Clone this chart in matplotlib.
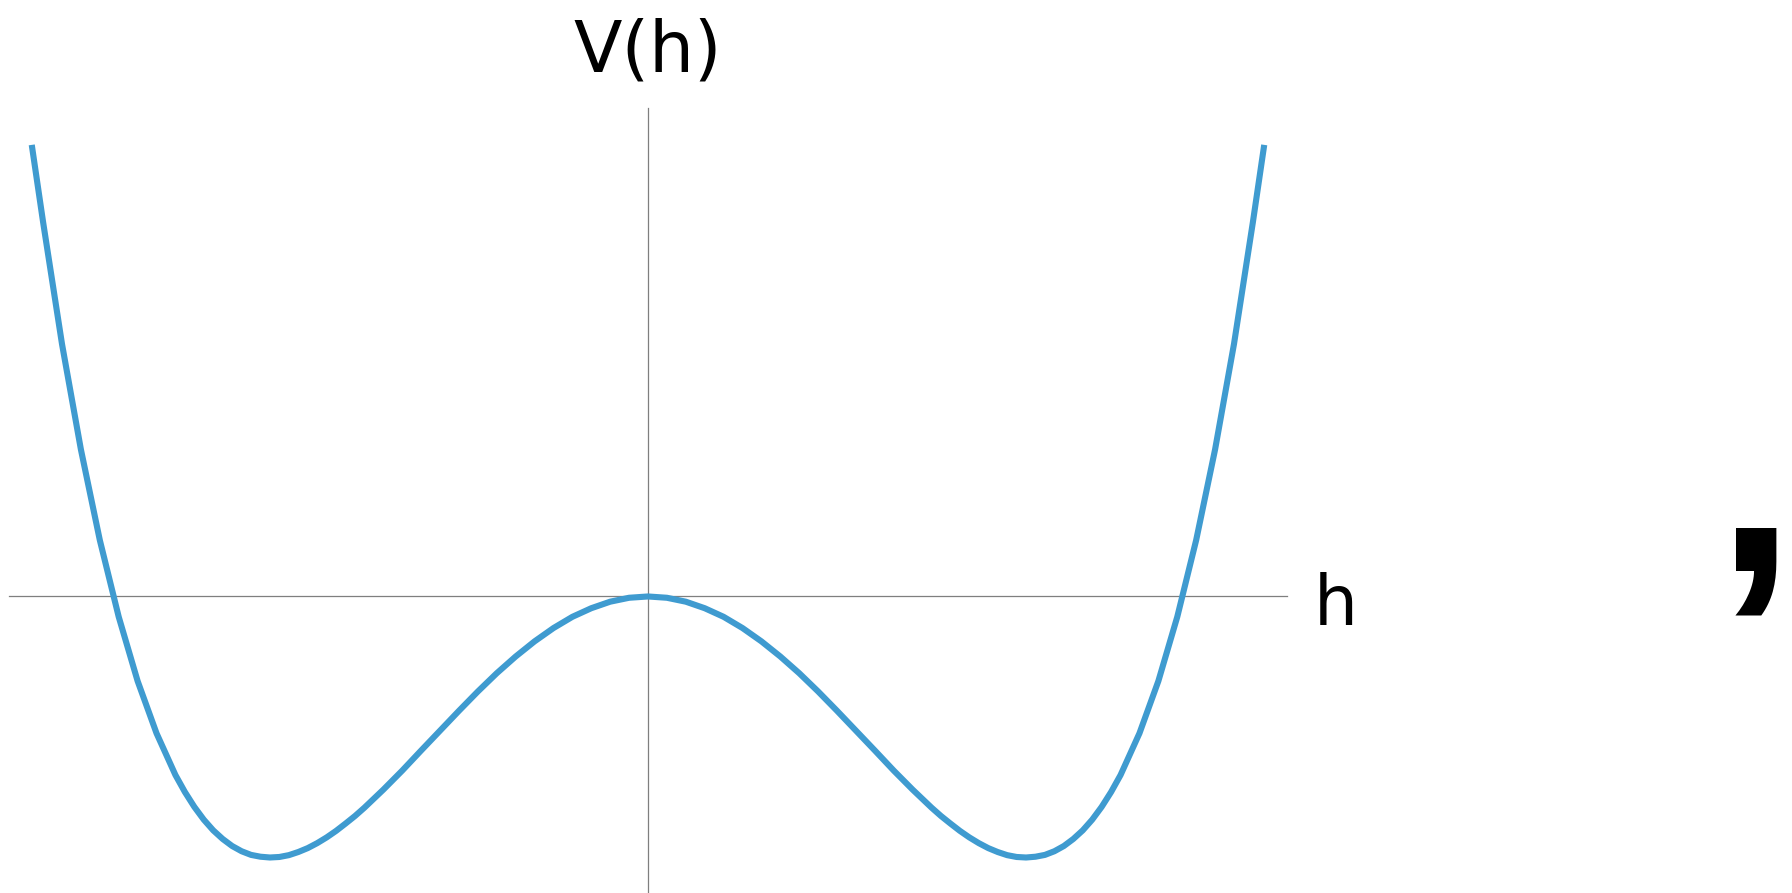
import matplotlib
matplotlib.use("Agg")
import matplotlib.pyplot as plt

# double-well potential (h in units of the minimum, V in units of the depth)
h_vals = [-1.63, -1.60, -1.55, -1.50, -1.45, -1.40, -1.35, -1.30, -1.25, -1.225, -1.20,
          -1.175, -1.15, -1.125, -1.10, -1.075, -1.05, -1.025, -1.00, -0.975, -0.95,
          -0.925, -0.90, -0.875, -0.85, -0.825, -0.80, -0.775, -0.75, -0.70,
          -0.65, -0.60, -0.55, -0.50, -0.45, -0.40, -0.35, -0.30, -0.25, -0.20,
          -0.15, -0.10, -0.05, 0.00, 0.05, 0.10, 0.15, 0.20, 0.25, 0.30,
          0.35, 0.40, 0.45, 0.50, 0.55, 0.60, 0.65, 0.70, 0.75, 0.775, 0.80,
          0.825, 0.85, 0.875, 0.90, 0.925, 0.95, 0.975, 1.00, 1.025, 1.05,
          1.075, 1.10, 1.125, 1.15, 1.175, 1.20, 1.225, 1.25, 1.30,
          1.35, 1.40, 1.45, 1.50, 1.55, 1.60, 1.63]
v_vals = [1.73, 1.434, 0.967, 0.563, 0.216, -0.078, -0.324, -0.524, -0.684, -0.749, -0.806,
          -0.855, -0.896, -0.929, -0.956, -0.976, -0.990, -0.997, -1.000, -0.998, -0.991,
          -0.979, -0.964, -0.945, -0.923, -0.898, -0.870, -0.841, -0.809, -0.740,
          -0.667, -0.590, -0.514, -0.438, -0.364, -0.294, -0.230, -0.172, -0.121, -0.078,
          -0.045, -0.020, -0.005, 0.000, -0.005, -0.020, -0.045, -0.078, -0.121, -0.172,
          -0.230, -0.294, -0.364, -0.438, -0.514, -0.590, -0.667, -0.740, -0.809, -0.841, -0.870,
          -0.898, -0.923, -0.945, -0.964, -0.979, -0.991, -0.998, -1.000, -0.997, -0.990,
          -0.976, -0.956, -0.929, -0.896, -0.855, -0.806, -0.749, -0.684, -0.524,
          -0.324, -0.078, 0.216, 0.563, 0.967, 1.434, 1.73]

# extent of the two axis lines
h_axis = [-1.69, 1.69]
v_axis = [-1.15, 1.87]

fig = plt.figure(figsize=(17.92, 8.93), dpi=100)
ax = fig.add_axes([0, 0, 1, 1])
ax.set_xlim(-1.714, 3.026)
ax.set_ylim(-1.136, 2.285)
ax.axis("off")

ax.plot(h_axis, [0, 0], color="#7f7f7f", lw=0.9, zorder=1)
ax.plot([0, 0], v_axis, color="#7f7f7f", lw=0.9, zorder=1)
ax.plot(h_vals, v_vals, color="#3f9bd0", lw=4.4, solid_capstyle="butt", zorder=2)

ax.text(0, 2.013, "V(h)", fontsize=51, ha="center", va="baseline", family="DejaVu Sans")
ax.text(1.76, -0.11, "h", fontsize=50, ha="left", va="baseline", family="DejaVu Sans")
ax.text(2.825, 0.10, ",", fontsize=206, ha="left", va="baseline",
        family="Liberation Sans", fontweight="bold")

fig.savefig("out.png", dpi=100, facecolor="white")
